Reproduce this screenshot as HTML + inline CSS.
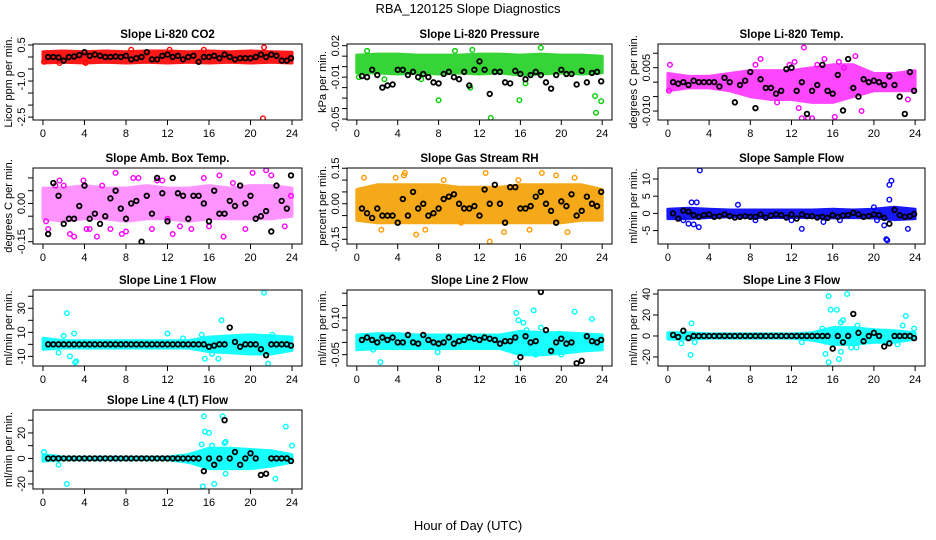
<!DOCTYPE html>
<html><head><meta charset="utf-8"><style>
html,body{margin:0;padding:0;background:#fff}
svg{display:block;font-family:"Liberation Sans",Arial,sans-serif}
</style></head><body>
<svg id="chart" width="936" height="540" viewBox="0 0 936 540" xmlns="http://www.w3.org/2000/svg">
<text x="468" y="13" text-anchor="middle" font-size="13">RBA_120125  Slope Diagnostics</text>
<text x="468" y="530" text-anchor="middle" font-size="13">Hour of Day (UTC)</text>
</svg>
<script>
const blackHours = [0.5,1,1.5,2,2.5,3,3.5,4, 4.5,5,5.5,6,6.5,7,7.5,8, 8.5,9,9.5,10,10.5,11,11.5,12, 12.5,13,13.5,14,14.5,15,15.5,16, 16.5,17,17.5,18,18.5,19,19.5,20, 20.5,21,21.5,22,22.5,23,23.5,23.9];
const bandHours = [0,2,4,6,8,10,12,14,16,18,20,22,24];
const xTicks = [0,4,8,12,16,20,24];

const titles = ["Slope Li-820 CO2","Slope Li-820 Pressure","Slope Li-820 Temp.","Slope Amb. Box Temp.","Slope Gas Stream RH","Slope Sample Flow","Slope Line 1 Flow","Slope Line 2 Flow","Slope Line 3 Flow","Slope Line 4 (LT) Flow"];
const yTitles = ["Licor ppm per min.","kPa per min.","degrees C per min.","degrees C per min.","percent per min.","ml/min per min.","ml/min per min.","ml/min per min.","ml/min per min.","ml/min per min."];

const co2Black = [0.0,0.0,-0.02,-0.15,0.0,0.02,0.08,0.2, 0.05,0.1,0.05,0.0,0.0,0.02,0.0,0.05, -0.1,-0.05,0.0,0.2,-0.1,-0.1,0.05,0.1, 0.0,0.05,-0.1,0.0,0.05,-0.2,0.0,0.0, 0.05,-0.05,0.1,0.0,-0.1,-0.05,-0.05,-0.05, 0.0,0.1,0.0,0.1,0.05,-0.15,-0.15,-0.05];
const co2BandLo = [-0.25,-0.22,-0.25,-0.22,-0.25,-0.22,-0.25,-0.22,-0.25,-0.22,-0.25,-0.22,-0.25];
const co2BandHi = [0.22,0.25,0.22,0.25,0.22,0.25,0.25,0.22,0.25,0.22,0.25,0.22,0.2];
const co2Out = [[21.2,-2.55],[21.3,0.4],[15.5,0.3],[0.1,-0.2],[1.6,-0.25],[12.2,0.3],[8.5,0.3],[4.1,-0.25]];

const presBlack = [-0.009,-0.01,-0.003,-0.008,-0.02,-0.018,-0.017,-0.003, -0.003,-0.008,-0.005,-0.01,-0.007,-0.01,-0.015,-0.016, -0.007,-0.005,-0.01,-0.012,-0.005,-0.018,-0.003,0.005, -0.003,-0.026,-0.005,-0.005,-0.015,-0.016,-0.004,-0.007, -0.012,-0.008,-0.005,-0.008,-0.015,-0.021,-0.008,-0.003, -0.007,-0.007,-0.017,-0.004,-0.015,-0.006,-0.005,-0.014];
const presBandLo = [-0.006,-0.006,-0.007,-0.006,-0.007,-0.006,-0.007,-0.006,-0.008,-0.007,-0.006,-0.007,-0.006];
const presBandHi = [0.011,0.012,0.012,0.011,0.011,0.011,0.012,0.012,0.011,0.012,0.011,0.011,0.01];
const presOut = [[8,-0.032],[13.1,-0.049],[15.9,-0.032],[18,0.018],[23.3,-0.028],[23.4,-0.044],[23.9,-0.033],[11.3,0.016],[0.2,-0.01],[2.7,-0.012],[6.3,-0.012],[11.1,-0.02],[16.5,-0.016],[1.0,0.015],[9.6,0.015]];

const tempBlack = [0.0,-0.0005,0.0,-0.001,0.0005,0.0,0.0,0.0, 0.0,-0.0015,0.0015,0.0,-0.007,-0.001,0.0005,0.0035, -0.009,0.001,-0.002,-0.002,-0.004,-0.003,0.0045,0.005, -0.003,0.0,-0.011,-0.003,-0.001,0.006,-0.003,-0.004, 0.0025,-0.0098,0.008,-0.002,-0.005,0.001,0.0,0.0005, 0.0,-0.001,0.002,-0.001,-0.005,-0.011,0.0035,-0.003];
const tempBandLo = [-0.003,-0.002,-0.002,-0.003,-0.005,-0.006,-0.006,-0.007,-0.007,-0.005,-0.003,-0.003,-0.003];
const tempBandHi = [0.003,0.002,0.002,0.003,0.004,0.004,0.004,0.005,0.006,0.006,0.003,0.003,0.004];
const tempOut = [[0.2,0.006],[0.1,-0.003],[9,0.008],[13.2,0.012],[12.7,-0.009],[13,-0.0125],[13.6,-0.0125],[14,-0.0125],[15.2,0.008],[16.2,-0.012],[18.2,0.009],[18.8,-0.01],[10.6,-0.007],[11.8,0.006],[23.3,-0.006],[17.1,0.005],[16.6,0.007],[8.5,0.006],[14.5,0.006],[12.3,0.007]];

const ambBlack = [-0.12,0.08,0.03,-0.08,-0.06,-0.06,-0.01,0.07, -0.06,-0.04,-0.08,-0.05,0.02,0.05,-0.02,-0.06, 0.0,0.01,-0.15,0.03,-0.04,0.1,0.04,-0.07, 0.1,0.04,0.03,-0.06,0.03,0.03,0.0,-0.07, 0.05,-0.04,-0.04,0.01,-0.01,0.07,0.0,0.03, -0.06,-0.05,-0.03,-0.11,0.07,0.01,-0.02,0.11];
const ambBandLo = [-0.06,-0.07,-0.06,-0.06,-0.07,-0.06,-0.06,-0.07,-0.06,-0.06,-0.06,-0.06,-0.05];
const ambBandHi = [0.06,0.06,0.07,0.06,0.06,0.07,0.06,0.06,0.07,0.06,0.07,0.07,0.06];
const ambOut = [[0.3,-0.07],[0.5,-0.1],[1.2,0.07],[2.6,-0.12],[3,-0.13],[3.9,0.09],[4.5,-0.1],[5.2,-0.13],[6.5,-0.1],[7.0,0.12],[7.6,-0.12],[8.0,-0.11],[8.7,0.1],[9.2,0.1],[10.5,-0.1],[11.0,0.09],[12.5,-0.12],[13.2,-0.09],[14.3,-0.1],[15.5,0.1],[16.0,-0.09],[17.0,0.11],[17.4,-0.13],[18.3,0.08],[19.5,-0.1],[20.2,0.12],[21.5,0.13],[22.0,0.11],[23.3,-0.09],[23.9,0.03],[11.5,0.09],[2.0,0.07],[5.7,0.07],[12.0,-0.06],[1.6,0.09],[4.2,-0.1]];

const rhBlack = [-0.02,-0.04,-0.06,-0.02,-0.05,-0.05,-0.05,-0.08, 0.02,-0.05,0.05,-0.02,0.0,-0.05,-0.04,-0.02, 0.02,0.03,0.04,0.0,-0.02,-0.02,-0.01,-0.05, 0.06,0.0,0.08,0.0,-0.08,0.07,0.07,-0.02, -0.02,-0.01,0.03,0.05,0.0,-0.03,-0.08,0.01, -0.01,0.04,-0.05,-0.03,0.03,0.0,-0.01,0.05];
const rhBandLo = [-0.07,-0.08,-0.08,-0.08,-0.08,-0.08,-0.08,-0.08,-0.08,-0.08,-0.08,-0.07,-0.07];
const rhBandHi = [0.06,0.08,0.08,0.08,0.08,0.07,0.07,0.07,0.08,0.08,0.08,0.08,0.06];
const rhOut = [[0.7,0.11],[2.4,-0.11],[4.7,0.13],[5.8,-0.13],[6.7,-0.11],[8.5,0.1],[10.2,-0.08],[12.6,0.13],[13,-0.16],[14.4,-0.12],[16.9,-0.11],[18.1,0.13],[19.5,0.12],[20.6,-0.12],[21.3,0.11],[3.8,0.11],[15.8,0.1],[4.6,0.12]];

const flowBlack = [0.0,-1.5,0.8,0.5,-0.5,-1.0,-0.5,-0.3, -1.0,-0.8,-0.3,-0.8,-1.2,-1.0,-0.8,-1.0, -1.0,-0.3,-1.2,-0.6,-0.3,-0.5,-1.2,-0.3, -1.5,-0.3,-0.8,-0.8,-1.2,-1.0,-1.3,-0.5, -1.0,-0.6,-0.5,0.2,-0.3,-1.0,-0.8,-0.3, -0.5,-1.3,-3.0,1.0,-0.5,-1.0,-0.8,-0.2];
const flowBandLo = [-1.5,-1.5,-1.2,-1.0,-1.2,-1.2,-1.2,-1.2,-1.3,-1.2,-1.3,-1.8,-1.5];
const flowBandHi = [1.2,1.5,1.2,1.0,1.0,1.0,1.0,1.0,1.2,1.0,1.2,1.8,1.2];
const flowOut = [[3.1,12.5],[21.7,9.5],[21.5,8.3],[21.2,-7.5],[21.3,-7.8],[13,-4.5],[23.3,-4.5],[3,-4],[2.5,-3.2],[2.3,3.2],[2.8,3.2],[6.8,2.5],[15.1,-2.5],[21.5,4],[1.5,-2],[8.5,-2],[20,1.8],[20.3,-2],[12,-2],[16.7,-2],[21,-3.5],[2,-3]];

const line1Black = [0,0,0,0,0,0,0,0, 0,0,0,0,0,0,0,0, 0,0,0,0,0,0,0,0, 0,0,0,0,0,0,0,-2, -1,0,0,14,2,-2,0,0, 0,-4,-9,0,0,0,0,-1];
const line1BandLo = [-4,-3,-3,-3,-3,-3,-3,-3,-6,-7,-8,-8,-5];
const line1BandHi = [5,3,3,3,3,3,3,3,6,7,8,7,6];
const line1Out = [[2.3,26],[2.0,7],[3.0,9],[3.1,-15],[3.2,-14],[2.6,-10],[1.5,-7],[12,9],[16.9,-12],[15.6,-12],[17.2,20],[21.3,43],[21.7,-16],[16.3,-8],[22.1,8],[23.8,5],[13.5,5],[15.3,8]];

const line2Black = [0.01,0.02,0.01,0.0,0.02,0.01,0.02,0.0, 0.0,0.03,0.0,-0.005,0.03,0.01,0.0,-0.005, 0.0,0.02,-0.005,0.005,0.01,0.02,0.015,0.01, 0.02,0.015,0.01,-0.005,0.005,0.005,0.02,-0.06, 0.025,0.0,0.005,0.205,0.05,-0.035,0.0,0.015, -0.005,0.0,-0.085,-0.075,0.025,0.005,0.0,0.01];
const line2BandLo = [-0.03,-0.025,-0.025,-0.025,-0.025,-0.025,-0.025,-0.025,-0.05,-0.05,-0.045,-0.035,-0.03];
const line2BandHi = [0.03,0.035,0.035,0.03,0.03,0.03,0.03,0.03,0.045,0.04,0.04,0.035,0.03];
const line2Out = [[2.3,-0.08],[15.6,0.12],[15.6,-0.085],[15.8,0.09],[16.3,0.08],[17.3,0.13],[18,0.06],[21.3,0.125],[23,0.095],[16.6,0.05],[17.5,-0.05],[20,-0.05],[19.8,0.035],[7.9,-0.04],[1.6,-0.03]];

const line3Black = [1,-1,5,-2,0,0,0,0, 0,0,0,0,0,0,0,0, 0,0,0,0,0,0,0,0, 0,0,0,0,0,0,0,-12, 0,-6,0,21,3,-5,0,3, 0,-10,-7,0,0,0,0,-2];
const line3BandLo = [-3,-3,-2,-2,-2,-2,-2,-4,-8,-8,-6,-6,-3];
const line3BandHi = [3,3,2,2,2,2,2,3,8,8,6,5,3];
const line3Out = [[2.3,12],[2.2,-18],[2.6,-6],[1.3,-7],[15.6,38],[15.8,25],[16.4,25],[17.4,40],[15.3,-17],[15.6,-25],[16.6,-22],[16.8,-15],[16.8,13],[17,15],[17.8,-11],[18.3,-11],[18.4,10],[22.8,10],[23.1,19],[23.9,7],[13,-6],[15,7],[22.3,-8]];

const line4Black = [0,0,0,0,0,0,0,0, 0,0,0,0,0,0,0,0, 0,0,0,0,0,0,0,0, 0,0,0,0,0,0,-10,0, -5,0,30,0,5,-5,0,4, 0,-13,-12,0,0,0,0,-2];
const line4BandLo = [-2,-1,-1,-1,-1,-1,-1,-3,-8,-8,-8,-6,-3];
const line4BandHi = [3,1,1,1,1,1,1,3,8,8,7,6,3];
const line4Out = [[0.1,5],[1.5,-5],[2.3,-20],[15.5,33],[15.6,21],[16,20],[17.3,33],[15.4,-22],[16.5,-20],[16.3,10],[17.5,12],[17.6,13],[23.4,25],[24,10],[15.3,11],[17.6,-12],[22.4,-16],[20,-5],[14,-2]];

const panelBlack = [co2Black,presBlack,tempBlack,ambBlack,rhBlack,flowBlack,line1Black,line2Black,line3Black,line4Black];
const panelLo = [co2BandLo,presBandLo,tempBandLo,ambBandLo,rhBandLo,flowBandLo,line1BandLo,line2BandLo,line3BandLo,line4BandLo];
const panelHi = [co2BandHi,presBandHi,tempBandHi,ambBandHi,rhBandHi,flowBandHi,line1BandHi,line2BandHi,line3BandHi,line4BandHi];
const panelOut = [co2Out,presOut,tempOut,ambOut,rhOut,flowOut,line1Out,line2Out,line3Out,line4Out];

const yTicks = [[0.5,0,-0.5,-1,-1.5,-2,-2.5],[0.02,0.01,0,-0.01,-0.02,-0.03,-0.04,-0.05],[0.01,0.005,0,-0.005,-0.01],[0.1,0.05,0,-0.05,-0.1,-0.15],[0.15,0.1,0.05,0,-0.05,-0.1,-0.15],[10,5,0,-5],[40,30,20,10,0,-10],[0.2,0.15,0.1,0.05,0,-0.05],[40,20,0,-20],[30,20,10,0,-10,-20]];
const yTickLabels = [["0.5","","","-1.0","","","-2.5"],["0.02","","","-0.01","","","","-0.05"],["","0.005","","","-0.010"],["","","0.00","","","-0.15"],["0.15","","","0.00","","","-0.15"],["10","5","0","-5"],["","30","","10","","-10"],["","","0.10","","","-0.05"],["40","20","0","-20"],["","20","","0","","-20"]];

const yMax = [0.54,0.0216,0.0132,0.139,0.151,13.2,45.2,0.213,43.8,38];
const yMin = [-2.62,-0.0509,-0.0131,-0.159,-0.17,-8.9,-18,-0.096,-28.6,-24];
const colors = ["#ff0000","#00d000","#ff00ff","#ff00ff","#ff9900","#0000ff","#00ffff","#00ffff","#00ffff","#00ffff"];
const bandColors = ["#ff0000","#22d022","#ff33ff","#ff88ff","#f4a000","#0000ff","#00ffff","#00ffff","#00ffff","#00ffff"];

const colLeft = [33,347,658], colW = [269,265,267];
const rowTop = [44,168,290,410], rowH = [76,76,76,79];
const NS = "http://www.w3.org/2000/svg";
const svg = document.getElementById('chart');
function mk(tag, attrs, parent){const e=document.createElementNS(NS,tag);for(const k in attrs)e.setAttribute(k,attrs[k]);(parent||svg).appendChild(e);return e;}

for (let p=0;p<10;p++){
  const r=Math.floor(p/3), c=p%3;
  const L=colLeft[c], W=colW[c], T=rowTop[r], H=rowH[r];
  const x = h => L + W*(h+0.96)/25.92;
  const y = v => T + H*(yMax[p]-v)/(yMax[p]-yMin[p]);
  const g = mk('g',{});
  
  
  const clip = mk('clipPath',{id:'clip'+p},g);
  mk('rect',{x:L,y:T,width:W,height:H},clip);
  const t = mk('text',{x:L+W/2,y:T-6,'text-anchor':'middle','font-size':'11.5','font-weight':'bold'},g);
  t.textContent = titles[p];
  
  
  const yt = mk('text',{x:0,y:0,'text-anchor':'middle','font-size':'11',transform:`translate(${L-21},${T+H/2}) rotate(-90)`},g);
  yt.textContent = yTitles[p];
  
  
  const marks = mk('g',{'clip-path':`url(#clip${p})`},g);
  let d='';
  bandHours.forEach((h,i)=>{d+=(i?'L':'M')+x(h).toFixed(1)+','+y(panelHi[p][i]).toFixed(1);});
  for(let i=bandHours.length-1;i>=0;i--) d+='L'+x(bandHours[i]).toFixed(1)+','+y(panelLo[p][i]).toFixed(1);
  const band = mk('path',{d:d+'Z',fill:bandColors[p],stroke:bandColors[p],'stroke-width':'3','stroke-linejoin':'round',opacity:'0.9'},marks);
  
  
  panelOut[p].forEach(pt=>{
    const ci = mk('circle',{cx:x(pt[0]),cy:y(pt[1]),r:2.3,fill:'none',stroke:colors[p],'stroke-width':'1.4'},marks);
    
    
  });
  panelBlack[p].forEach((v,i)=>{
    const ci = mk('circle',{cx:x(blackHours[i]),cy:y(v),r:2.3,fill:'none',stroke:'#000','stroke-width':'1.8'},marks);
    
    
  });
  const box = mk('rect',{x:L,y:T,width:W,height:H,fill:'none',stroke:'#000','stroke-width':'1'},g);
  
  
  const B=T+H;
  mk('line',{x1:x(0),x2:x(24),y1:B,y2:B,stroke:'#000'},g);
  xTicks.forEach(h=>{
    mk('line',{x1:x(h),x2:x(h),y1:B,y2:B+5,stroke:'#000'},g);
    const lt = mk('text',{x:x(h),y:B+17,'text-anchor':'middle','font-size':'11'},g);
    lt.textContent = h;
    
    
  });
  const yt0=yTicks[p];
  mk('line',{x1:L,x2:L,y1:y(yt0[0]),y2:y(yt0[yt0.length-1]),stroke:'#000'},g);
  yt0.forEach((v,i)=>{
    mk('line',{x1:L-5,x2:L,y1:y(v),y2:y(v),stroke:'#000'},g);
    if (yTickLabels[p][i]){
      const lt = mk('text',{x:0,y:0,'text-anchor':'middle','font-size':'11',transform:`translate(${L-8},${y(v)}) rotate(-90)`},g);
      lt.textContent = yTickLabels[p][i];
      
      
    }
  });
}
</script>
</body></html>
